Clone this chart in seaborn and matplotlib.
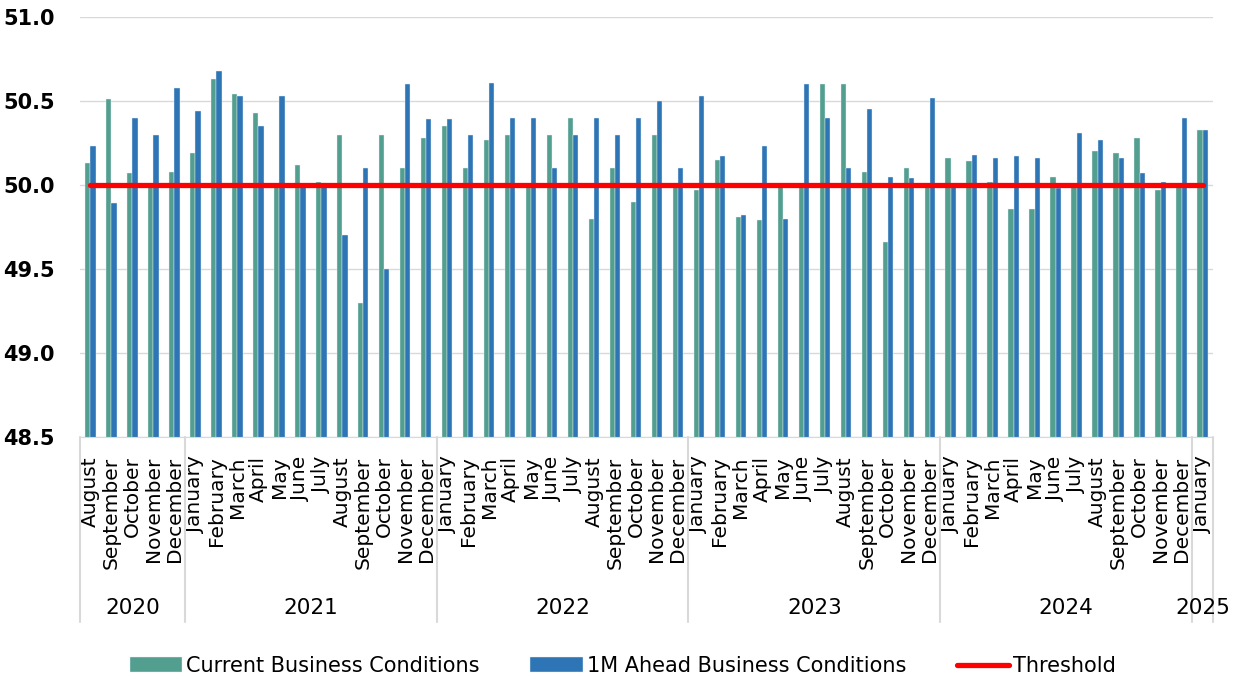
import numpy as np
import pandas as pd
import matplotlib
matplotlib.use("Agg")
import matplotlib.pyplot as plt
import matplotlib.transforms as mtrans
import seaborn as sns

# months from August 2020 to January 2025
years = [2020] * 5 + [2021] * 12 + [2022] * 12 + [2023] * 12 + [2024] * 12 + [2025]
month_names = ["January", "February", "March", "April", "May", "June", "July",
               "August", "September", "October", "November", "December"]
months = month_names[7:] + month_names * 4 + month_names[:1]

current = [50.13, 50.51, 50.07, 50.00, 50.08,
           50.19, 50.63, 50.54, 50.43, 50.00, 50.12, 50.02, 50.30, 49.30, 50.30, 50.10, 50.28,
           50.35, 50.10, 50.27, 50.30, 50.00, 50.30, 50.40, 49.80, 50.10, 49.90, 50.30, 50.00,
           49.97, 50.15, 49.81, 49.79, 49.99, 50.00, 50.60, 50.60, 50.08, 49.66, 50.10, 49.99,
           50.16, 50.14, 50.02, 49.86, 49.86, 50.05, 50.00, 50.20, 50.19, 50.28, 49.97, 50.00,
           50.33]
ahead = [50.23, 49.89, 50.40, 50.30, 50.58,
         50.44, 50.68, 50.53, 50.35, 50.53, 49.99, 50.01, 49.70, 50.10, 49.50, 50.60, 50.39,
         50.39, 50.30, 50.61, 50.40, 50.40, 50.10, 50.30, 50.40, 50.30, 50.40, 50.50, 50.10,
         50.53, 50.17, 49.82, 50.23, 49.80, 50.60, 50.40, 50.10, 50.45, 50.05, 50.04, 50.52,
         49.99, 50.18, 50.16, 50.17, 50.16, 49.98, 50.31, 50.27, 50.16, 50.07, 50.02, 50.40,
         50.33]
threshold = [50.0] * len(months)

series_names = ["Current Business Conditions", "1M Ahead Business Conditions"]
colors = ["#529E8F", "#2E75B6"]

sns.set_style("white")
plt.rcParams["font.family"] = ["DejaVu Sans"]
plt.rcParams["text.color"] = "black"
plt.rcParams["xtick.color"] = "black"
plt.rcParams["ytick.color"] = "black"

periods = [f"{y}-{m}" for y, m in zip(years, months)]
df = pd.DataFrame({
    "period": periods * 2,
    "value": current + ahead,
    "series": [series_names[0]] * len(periods) + [series_names[1]] * len(periods),
})

fig = plt.figure(figsize=(12.37, 6.81), dpi=100)
ax = fig.add_axes([80 / 1237, 1 - 437 / 681, 1133 / 1237, 420 / 681])

sns.barplot(data=df, x="period", y="value", hue="series", palette=colors,
            order=periods, hue_order=series_names, width=0.5, gap=0,
            saturation=1, edgecolor="#E8F0F8", linewidth=0.3, ax=ax)
sns.lineplot(x=np.arange(len(periods)), y=threshold, color="#FF0000", linewidth=3.8,
             solid_capstyle="round", label="Threshold", ax=ax)

ax.set_ylim(48.5, 51.0)
ax.set_xlim(-0.5, len(periods) - 0.5)
ax.set_yticks([48.5, 49.0, 49.5, 50.0, 50.5, 51.0])
ax.set_yticklabels([f"{v:.1f}" for v in [48.5, 49.0, 49.5, 50.0, 50.5, 51.0]],
                   fontsize=15, fontweight="bold")
ax.yaxis.grid(True, color="#D9D9D9", linewidth=1)
ax.set_axisbelow(True)
ax.tick_params(axis="y", length=0, pad=18, labelcolor="black")
ax.set_xticks(np.arange(len(periods)))
ax.set_xticklabels(months, rotation=90, fontsize=14.5)
ax.tick_params(axis="x", length=0, pad=14, labelcolor="black")
ax.set_xlabel("")
ax.set_ylabel("")
for s in ["left", "right", "top"]:
    ax.spines[s].set_visible(False)
ax.spines["bottom"].set_color("#D9D9D9")

# year groups under the month labels
trans = mtrans.blended_transform_factory(ax.transData, ax.transAxes)
year_list = sorted(set(years))
bounds = [-0.5]
for yr in year_list:
    idx = [i for i, y in enumerate(years) if y == yr]
    bounds.append(idx[-1] + 0.5)
    ax.text((idx[0] + idx[-1]) / 2, -0.407, str(yr), transform=trans,
            ha="center", va="center", fontsize=15.5, color="black")
for b in bounds:
    ax.plot([b, b], [0, -0.44], transform=trans, color="#D9D9D9",
            linewidth=1.5, clip_on=False)

handles, labels = ax.get_legend_handles_labels()
if ax.get_legend() is not None:
    ax.get_legend().remove()
fig.legend(handles, labels, loc="center", bbox_to_anchor=(0.5036, 0.022), ncol=3,
           frameon=False, fontsize=15, handlelength=2.5, columnspacing=2.45,
           handletextpad=0.2, labelcolor="black")

fig.savefig("out.png", dpi=100)
